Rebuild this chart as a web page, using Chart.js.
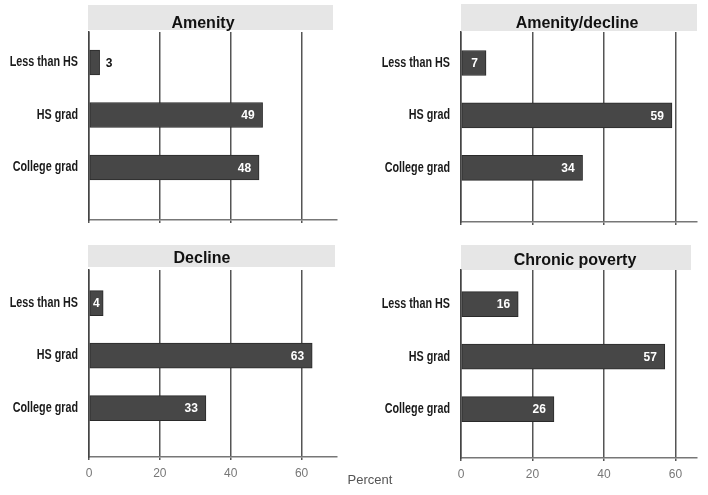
<!DOCTYPE html>
<html><head><meta charset="utf-8">
<script src="https://cdn.jsdelivr.net/npm/chart.js@4.4.0/dist/chart.umd.min.js"></script>
<style>
html,body{margin:0;padding:0;background:#fff;width:708px;height:495px;overflow:hidden;position:relative}
canvas{position:absolute}
#pct{position:absolute;left:325px;top:472px;width:90px;text-align:center;font:13px "Liberation Sans",sans-serif;color:#555}
</style></head><body>
<canvas id="c0" width="354" height="240" style="left:0;top:0"></canvas>
<canvas id="c1" width="354" height="240" style="left:354px;top:0"></canvas>
<canvas id="c2" width="354" height="255" style="left:0;top:240px"></canvas>
<canvas id="c3" width="354" height="255" style="left:354px;top:240px"></canvas>
<div id="pct"></div>
<script>
const categories = ['Less than HS', 'HS grad', 'College grad'];
const amenity = [3, 49, 48];
const amenityDecline = [7, 59, 34];
const decline = [4, 63, 33];
const chronicPoverty = [16, 57, 26];
const panelTitles = ['Amenity', 'Amenity/decline', 'Decline', 'Chronic poverty'];
const xTicks = [0, 20, 40, 60];
const axisTitle = 'Percent';

document.getElementById('pct').textContent = axisTitle;

function makeChart(id, title, values, p) {
  const bandPlugin = {
    id: 'band',
    beforeDraw(chart) {
      const c = chart.ctx;
      c.save();
      c.fillStyle = '#e6e6e6';
      c.fillRect(p.bx0, p.by0, p.bx1 - p.bx0, p.by1 - p.by0);
      c.fillStyle = '#111';
      c.font = 'bold 16px "Liberation Sans", sans-serif';
      c.textAlign = 'center';
      c.textBaseline = 'alphabetic';
      c.fillText(title, p.tx, p.ty);
      c.restore();
    }
  };
  const catLabelPlugin = {
    id: 'catLabels',
    afterDraw(chart) {
      const c = chart.ctx;
      const ys = chart.scales.y;
      const right = chart.chartArea.left - 11;
      c.save();
      c.font = 'bold 14px "Liberation Sans", sans-serif';
      c.fillStyle = '#1a1a1a';
      c.textAlign = 'right';
      c.textBaseline = 'middle';
      categories.forEach((cat, i) => {
        const y = ys.getPixelForValue(i);
        c.save();
        c.translate(right, y);
        c.scale(0.77, 1);
        c.fillText(cat, 0, 0);
        c.restore();
      });
      c.restore();
    }
  };
  const labelPlugin = {
    id: 'vals',
    afterDatasetsDraw(chart) {
      const c = chart.ctx;
      const meta = chart.getDatasetMeta(0);
      c.save();
      c.font = 'bold 12px "Liberation Sans", sans-serif';
      c.textBaseline = 'middle';
      meta.data.forEach((bar, i) => {
        const txt = String(values[i]);
        const tw = c.measureText(txt).width;
        const start = bar.base, end = bar.x;
        if (end - start < tw + 6) {
          c.fillStyle = '#111'; c.textAlign = 'left';
          c.fillText(txt, end + 6, bar.y + 1);
        } else if (end - 8 - tw < start + 3) {
          c.fillStyle = '#fff'; c.textAlign = 'center';
          c.fillText(txt, (start + end) / 2, bar.y + 1);
        } else {
          c.fillStyle = '#fff'; c.textAlign = 'right';
          c.fillText(txt, end - 8, bar.y + 1);
        }
      });
      c.restore();
    }
  };
  return new Chart(document.getElementById(id), {
    type: 'bar',
    data: {
      datasets: [{
        data: values.map((v, i) => ({ x: v, y: i })),
        backgroundColor: '#474747',
        borderColor: '#2a2a2a',
        borderWidth: 1,
        borderSkipped: false,
        barThickness: 25
      }]
    },
    options: {
      indexAxis: 'y',
      responsive: false,
      animation: false,
      layout: { padding: { top: p.T, right: p.W - p.R, left: 0, bottom: 0 } },
      plugins: { legend: { display: false }, tooltip: { enabled: false } },
      scales: {
        x: {
          type: 'linear', min: 0, max: p.max, offset: false,
          afterBuildTicks: s => { s.ticks = xTicks.map(v => ({ value: v })); },
          afterFit: s => { s.height = p.H - p.B; },
          grid: { color: '#555', lineWidth: 1.5, drawTicks: true, tickLength: 3, offset: false },
          border: { color: '#777', width: 1.5 },
          ticks: { display: p.showTicks, color: '#777', padding: 6,
                   font: { family: '"Liberation Sans", sans-serif', size: 12 } }
        },
        y: {
          type: 'linear', reverse: true, min: p.ymin, max: p.ymax, offset: false,
          afterBuildTicks: s => { s.ticks = categories.map((c, i) => ({ value: i })); },
          afterFit: s => { s.width = p.L; },
          grid: { display: false, drawTicks: false, offset: false },
          border: { color: '#444', width: 1.5 },
          ticks: { display: false }
        }
      }
    },
    plugins: [bandPlugin, labelPlugin, catLabelPlugin]
  });
}

makeChart('c0', panelTitles[0], amenity,
  { W: 354, H: 240, L: 89, R: 337, T: 32, B: 220, max: 70, showTicks: false, ymin: -0.58, ymax: 3.0,
    bx0: 88, bx1: 333, by0: 5, by1: 30, tx: 203, ty: 28 });
makeChart('c1', panelTitles[1], amenityDecline,
  { W: 354, H: 240, L: 107, R: 343, T: 32, B: 222, max: 66, showTicks: false, ymin: -0.59, ymax: 3.03,
    bx0: 107, bx1: 343, by0: 4, by1: 31, tx: 223, ty: 28 });
makeChart('c2', panelTitles[2], decline,
  { W: 354, H: 255, L: 89, R: 337, T: 30, B: 217, max: 70, showTicks: true, ymin: -0.63, ymax: 2.93,
    bx0: 88, bx1: 335, by0: 5, by1: 27, tx: 202, ty: 23 });
makeChart('c3', panelTitles[3], chronicPoverty,
  { W: 354, H: 255, L: 107, R: 343, T: 30, B: 218, max: 66, showTicks: true, ymin: -0.65, ymax: 2.93,
    bx0: 107, bx1: 337, by0: 5, by1: 30, tx: 221, ty: 25 });
</script>
</body></html>
